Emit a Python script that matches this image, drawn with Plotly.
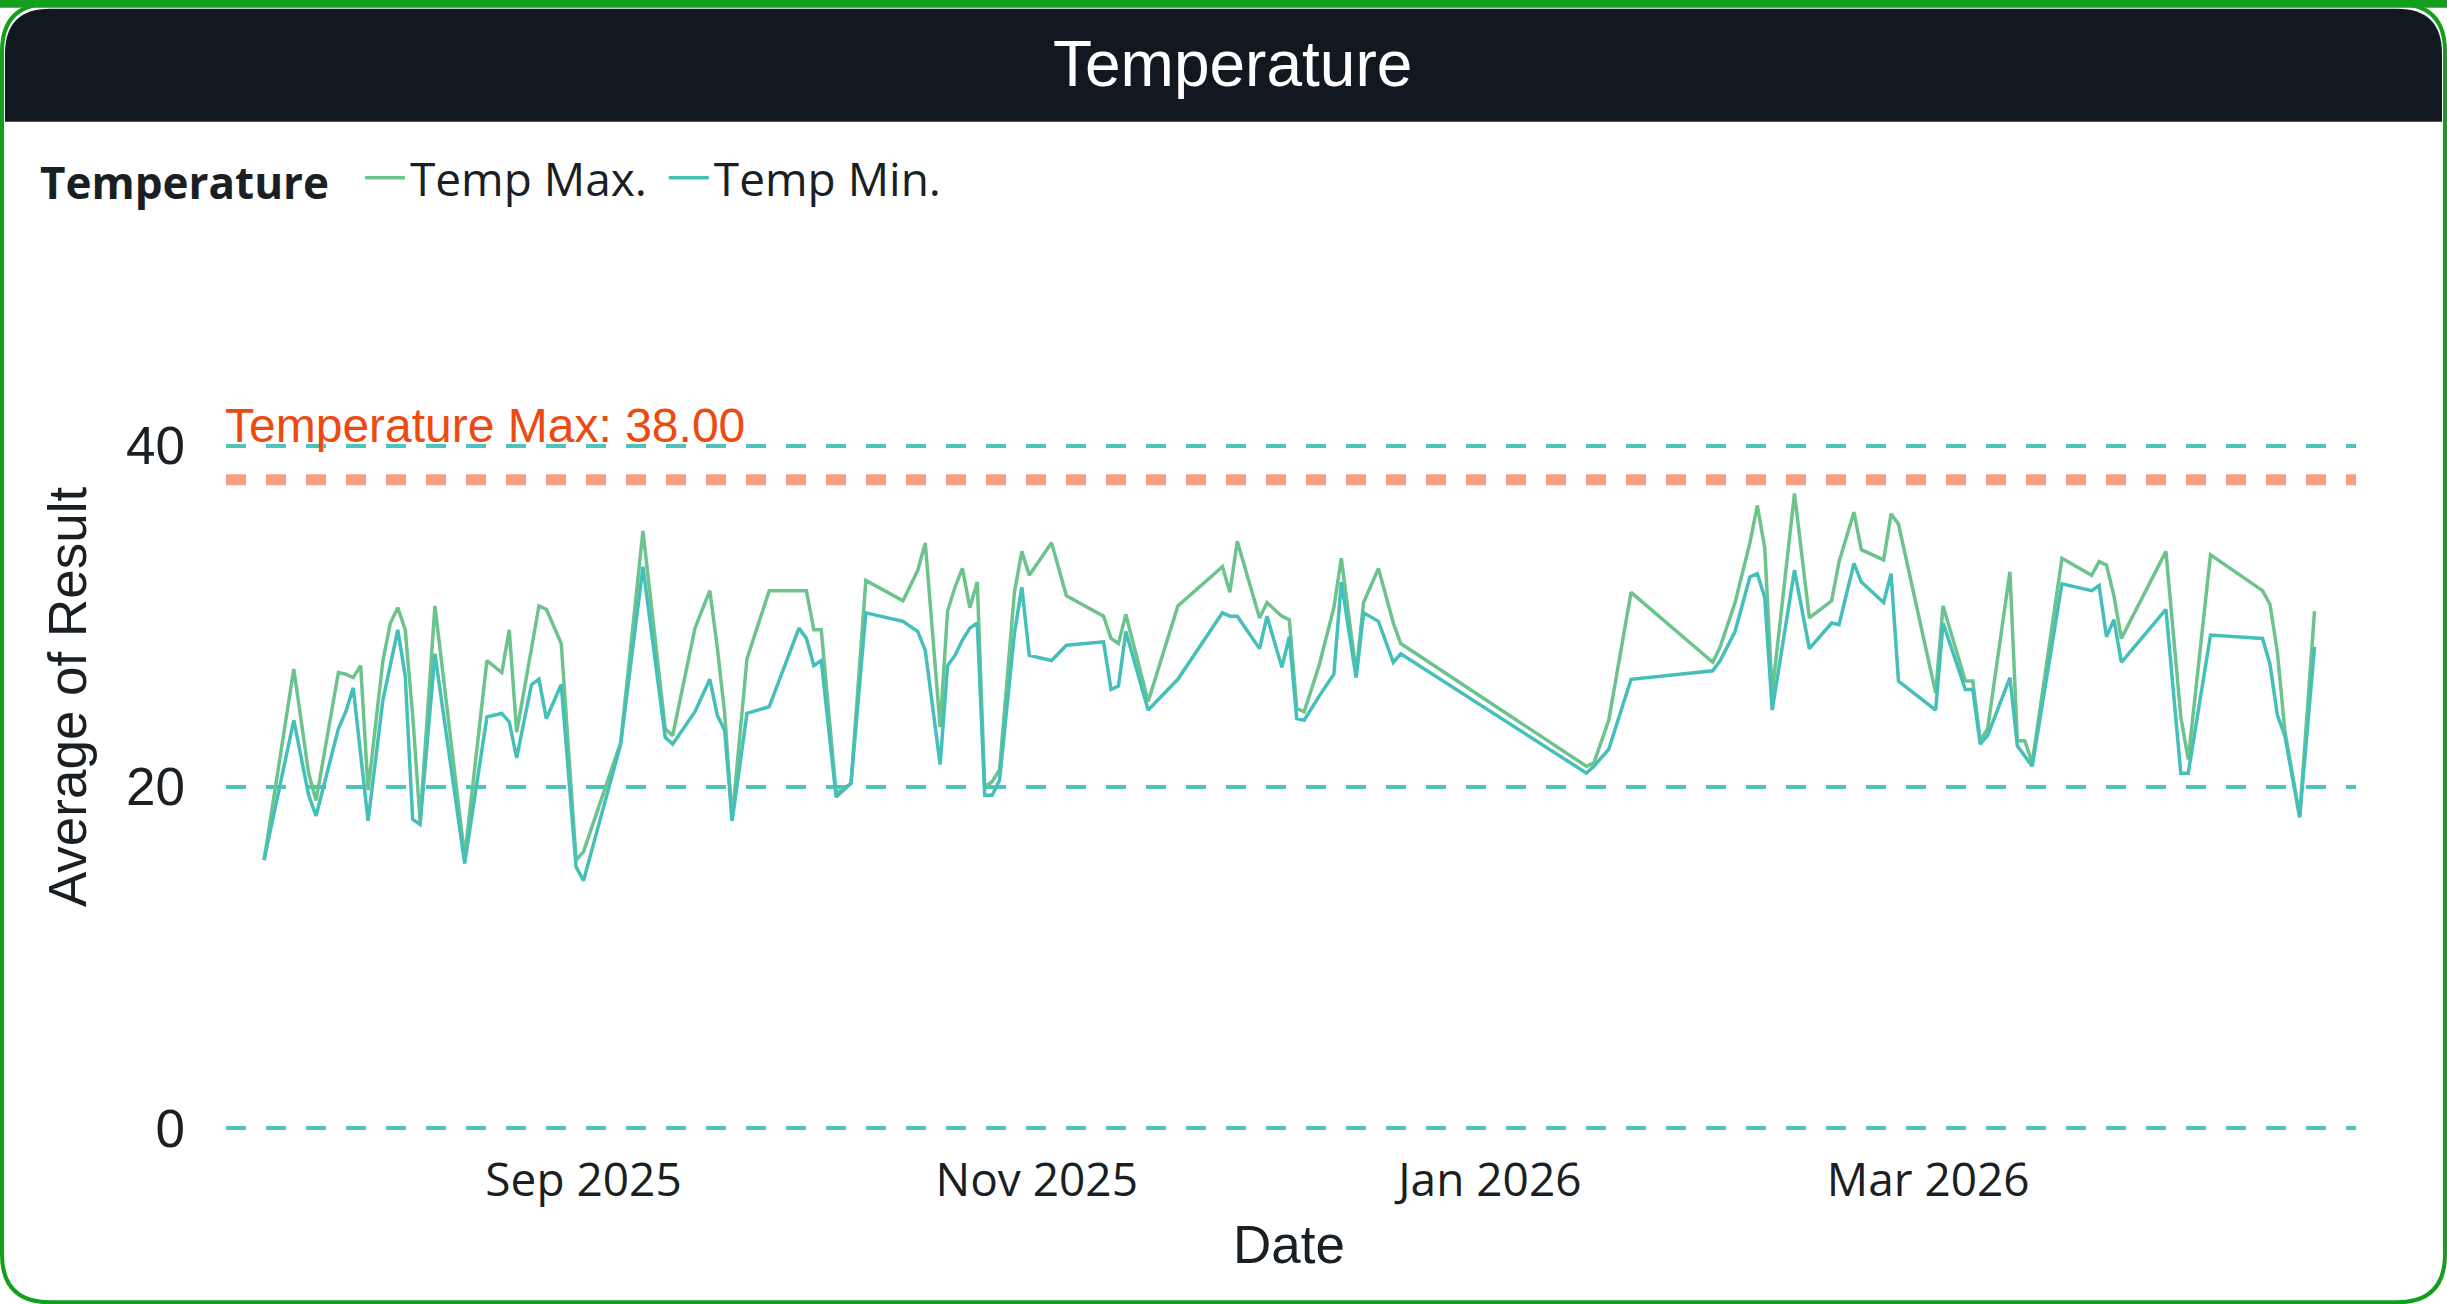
import plotly.graph_objects as go

# ---------------- data ----------------
dates = [
    "2025-07-20", "2025-07-24", "2025-07-26", "2025-07-27", "2025-07-30", "2025-07-31",
    "2025-08-01", "2025-08-02", "2025-08-03", "2025-08-05", "2025-08-06", "2025-08-07",
    "2025-08-08", "2025-08-09", "2025-08-10", "2025-08-12", "2025-08-16", "2025-08-19",
    "2025-08-21", "2025-08-22", "2025-08-23", "2025-08-25", "2025-08-26", "2025-08-27",
    "2025-08-29", "2025-08-31", "2025-09-01", "2025-09-06", "2025-09-09", "2025-09-12",
    "2025-09-13", "2025-09-16", "2025-09-18", "2025-09-19", "2025-09-20", "2025-09-21",
    "2025-09-23", "2025-09-26", "2025-09-30", "2025-10-01", "2025-10-02", "2025-10-03",
    "2025-10-05", "2025-10-07", "2025-10-09", "2025-10-14", "2025-10-16", "2025-10-17",
    "2025-10-19", "2025-10-20", "2025-10-21", "2025-10-22", "2025-10-23", "2025-10-24",
    "2025-10-25", "2025-10-26", "2025-10-27", "2025-10-29", "2025-10-30", "2025-10-31",
    "2025-11-03", "2025-11-05", "2025-11-10", "2025-11-11", "2025-11-12", "2025-11-13",
    "2025-11-16", "2025-11-20", "2025-11-26", "2025-11-27", "2025-11-28", "2025-12-01",
    "2025-12-02", "2025-12-04", "2025-12-05", "2025-12-06", "2025-12-07", "2025-12-09",
    "2025-12-11", "2025-12-12", "2025-12-14", "2025-12-15", "2025-12-17", "2025-12-19",
    "2025-12-20", "2026-01-14", "2026-01-15", "2026-01-17", "2026-01-20", "2026-01-31",
    "2026-02-01", "2026-02-03", "2026-02-05", "2026-02-06", "2026-02-07", "2026-02-08",
    "2026-02-11", "2026-02-13", "2026-02-16", "2026-02-17", "2026-02-19", "2026-02-20",
    "2026-02-23", "2026-02-24", "2026-02-25", "2026-03-02", "2026-03-03", "2026-03-06",
    "2026-03-07", "2026-03-08", "2026-03-09", "2026-03-12", "2026-03-13", "2026-03-14",
    "2026-03-15", "2026-03-19", "2026-03-23", "2026-03-24", "2026-03-25", "2026-03-26",
    "2026-03-27", "2026-04-02", "2026-04-04", "2026-04-05", "2026-04-08", "2026-04-15",
    "2026-04-16", "2026-04-17", "2026-04-18", "2026-04-20", "2026-04-22",
]

temp_max = [
    15.7, 26.9, 20.8, 19.2, 26.7, 26.6,
    26.4, 27.1, 19.8, 27.4, 29.6, 30.5,
    29.2, 24.2, 18.0, 30.6, 15.9, 27.4,
    26.7, 29.2, 23.2, 28.2, 30.6, 30.4,
    28.4, 15.7, 16.2, 22.6, 35.0, 23.4,
    23.0, 29.3, 31.5, 28.2, 24.3, 18.1,
    27.5, 31.5, 31.5, 31.5, 29.2, 29.2,
    19.6, 20.2, 32.1, 30.9, 32.7, 34.3,
    23.5, 30.3, 31.7, 32.8, 30.5, 32.0,
    20.0, 20.3, 21.0, 31.4, 33.8, 32.4,
    34.3, 31.2, 30.0, 28.7, 28.4, 30.1,
    25.0, 30.6, 32.9, 31.4, 34.4, 29.9,
    30.8, 30.0, 29.8, 24.6, 24.4, 27.1,
    30.5, 33.4, 26.7, 30.8, 32.8, 29.6,
    28.4, 21.2, 21.4, 23.9, 31.4, 27.3,
    28.2, 30.8, 34.3, 36.5, 34.0, 25.5,
    37.2, 29.9, 30.9, 33.2, 36.1, 33.9,
    33.3, 36.0, 35.4, 25.5, 30.6, 26.2,
    26.2, 22.7, 23.4, 32.6, 22.7, 22.7,
    21.4, 33.4, 32.4, 33.2, 33.0, 31.2,
    28.7, 33.8, 24.1, 21.6, 33.6, 31.5,
    30.7, 27.9, 23.3, 18.3, 30.3,
]

temp_min = [
    15.7, 23.9, 19.5, 18.3, 23.4, 24.4,
    25.8, 21.9, 18.0, 25.1, 27.2, 29.2,
    26.5, 18.1, 17.8, 27.8, 15.5, 24.1,
    24.3, 23.8, 21.7, 26.0, 26.3, 24.0,
    26.0, 15.3, 14.5, 22.5, 32.9, 22.9,
    22.5, 24.4, 26.3, 24.2, 23.3, 18.0,
    24.3, 24.7, 29.3, 28.7, 27.1, 27.4,
    19.4, 20.2, 30.2, 29.7, 29.1, 28.0,
    21.3, 27.1, 27.7, 28.6, 29.3, 29.6,
    19.5, 19.5, 20.4, 29.0, 31.7, 27.7,
    27.4, 28.3, 28.5, 25.7, 25.9, 29.1,
    24.5, 26.3, 30.2, 30.0, 30.0, 28.1,
    30.0, 27.0, 28.8, 24.0, 23.9, 25.3,
    26.6, 32.0, 26.4, 30.2, 29.7, 27.3,
    27.8, 20.8, 21.2, 22.2, 26.3, 26.8,
    27.4, 29.1, 32.3, 32.5, 31.1, 24.5,
    32.7, 28.1, 29.6, 29.5, 33.1, 32.0,
    30.8, 32.5, 26.2, 24.5, 29.6, 25.7,
    25.7, 22.5, 23.0, 26.4, 22.4, 21.8,
    21.2, 31.9, 31.5, 31.8, 28.8, 29.8,
    27.3, 30.4, 20.8, 20.8, 28.9, 28.7,
    27.2, 24.2, 23.0, 18.2, 28.2,
]

series_names = ["Temp Max.", "Temp Min."]
threshold_value = 38.0
threshold_label = "Temperature Max: 38.00"
y_ticks = [0, 20, 40]
x_range = ["2025-07-14 21:00", "2026-04-27 14:00"]
y_range = [-1, 51]

# ---------------- layout geometry ----------------
W, H = 2447, 1304
ML, MR = 226, 91
Y_PER = 17.05
PLOT_BOTTOM = 1127.7 + (0 - y_range[0]) * Y_PER
PLOT_TOP = PLOT_BOTTOM - (y_range[1] - y_range[0]) * Y_PER
MT = PLOT_TOP
MB = H - PLOT_BOTTOM
PW = W - ML - MR
PH = PLOT_BOTTOM - PLOT_TOP


def px(x):
    return (x - ML) / PW


def py(y):
    return (PLOT_BOTTOM - y) / PH


C_MAX = "#6CC48C"
C_MIN = "#45BFB9"
C_GRID = "#4EC3BB"
C_THR = "#F5A084"
C_THR_TXT = "#EE4A10"
C_BORDER = "#12A01C"
C_HEAD = "#111820"
C_TEXT = "#1A1F24"
NB = "\u00a0"

fig = go.Figure()
fig.add_trace(go.Scatter(x=dates, y=temp_max, mode="lines", name=series_names[0] + NB,
                         line=dict(color=C_MAX, width=3.5)))
fig.add_trace(go.Scatter(x=dates, y=temp_min, mode="lines", name=series_names[1],
                         line=dict(color=C_MIN, width=3.5)))


def rounded_path(x0, y0, x1, y1, r, top=True, bottom=True):
    pts = []
    if top:
        pts.append(f"M{px(x0)},{py(y0 + r)}")
        pts.append(f"Q{px(x0)},{py(y0)} {px(x0 + r)},{py(y0)}")
        pts.append(f"L{px(x1 - r)},{py(y0)}")
        pts.append(f"Q{px(x1)},{py(y0)} {px(x1)},{py(y0 + r)}")
    else:
        pts.append(f"M{px(x0)},{py(y0)}")
        pts.append(f"L{px(x1)},{py(y0)}")
    if bottom:
        pts.append(f"L{px(x1)},{py(y1 - r)}")
        pts.append(f"Q{px(x1)},{py(y1)} {px(x1 - r)},{py(y1)}")
        pts.append(f"L{px(x0 + r)},{py(y1)}")
        pts.append(f"Q{px(x0)},{py(y1)} {px(x0)},{py(y1 - r)}")
    else:
        pts.append(f"L{px(x1)},{py(y1)}")
        pts.append(f"L{px(x0)},{py(y1)}")
    pts.append("Z")
    return " ".join(pts)


shapes = [
    dict(type="path", xref="paper", yref="paper", layer="below",
         path=rounded_path(2, 4, W - 2, H - 2, 48),
         fillcolor="white", line=dict(color=C_BORDER, width=4)),
    dict(type="rect", xref="paper", yref="paper", layer="below",
         x0=px(0), x1=px(W), y0=py(0), y1=py(8),
         fillcolor=C_BORDER, line=dict(width=0)),
    dict(type="path", xref="paper", yref="paper", layer="below",
         path=rounded_path(5, 9, W - 5, 122, 45, top=True, bottom=False),
         fillcolor=C_HEAD, line=dict(width=0)),
    dict(type="line", xref="paper", yref="y", layer="above",
         x0=0, x1=1, y0=threshold_value, y1=threshold_value,
         line=dict(color=C_THR, width=11, dash="20px,20px")),
]

annotations = [
    dict(text="Temperature", xref="paper", yref="paper", x=px(1232), y=py(64),
         xanchor="center", yanchor="middle", showarrow=False,
         font=dict(family="Liberation Sans, Arial", size=64, color="white")),
    dict(text=threshold_label, xref="paper", yref="y", x=px(224), y=39.55,
         xanchor="left", yanchor="bottom", showarrow=False, borderpad=0,
         font=dict(family="Liberation Sans, Arial", size=48, color=C_THR_TXT)),
    dict(text="Average of Result", xref="paper", yref="paper", x=px(67), y=py(697),
         xanchor="center", yanchor="middle", showarrow=False, textangle=-90,
         font=dict(family="Liberation Sans, Arial", size=53, color=C_TEXT)),
    dict(text="Date", xref="paper", yref="paper", x=px(1289), y=py(1244),
         xanchor="center", yanchor="middle", showarrow=False,
         font=dict(family="Liberation Sans, Arial", size=53, color=C_TEXT)),
]

fig.update_layout(
    width=W, height=H,
    margin=dict(l=ML, r=MR, t=MT, b=MB, pad=0),
    paper_bgcolor="white", plot_bgcolor="rgba(0,0,0,0)",
    shapes=shapes, annotations=annotations,
    showlegend=True,
    legend=dict(orientation="h", x=px(38), y=py(178), xanchor="left", yanchor="middle",
                title=dict(text="<b>Temperature</b>" + NB * 2, side="left",
                           font=dict(family="Open Sans", size=44, color=C_TEXT)),
                font=dict(family="Open Sans", size=46, color=C_TEXT),
                bgcolor="rgba(0,0,0,0)", itemwidth=40, tracegroupgap=0),
    hovermode=False,
)

fig.update_xaxes(type="date", range=x_range, showgrid=False, zeroline=False,
                 showline=False, ticks="", tick0="2025-09-01", dtick="M2",
                 tickformat="%b %Y", ticklabelstandoff=4,
                 tickfont=dict(family="Open Sans", size=46, color=C_TEXT))
fig.update_yaxes(range=y_range, tickvals=y_ticks, showgrid=True, gridcolor=C_GRID,
                 gridwidth=3.5, griddash="20px,20px", zeroline=False, showline=False,
                 ticks="", ticklabelstandoff=40,
                 tickfont=dict(family="Liberation Sans, Arial", size=53, color=C_TEXT))

fig.write_html("out.html", config={"displayModeBar": False},
               post_script="document.body.style.margin='0';document.body.style.overflow='hidden';")
